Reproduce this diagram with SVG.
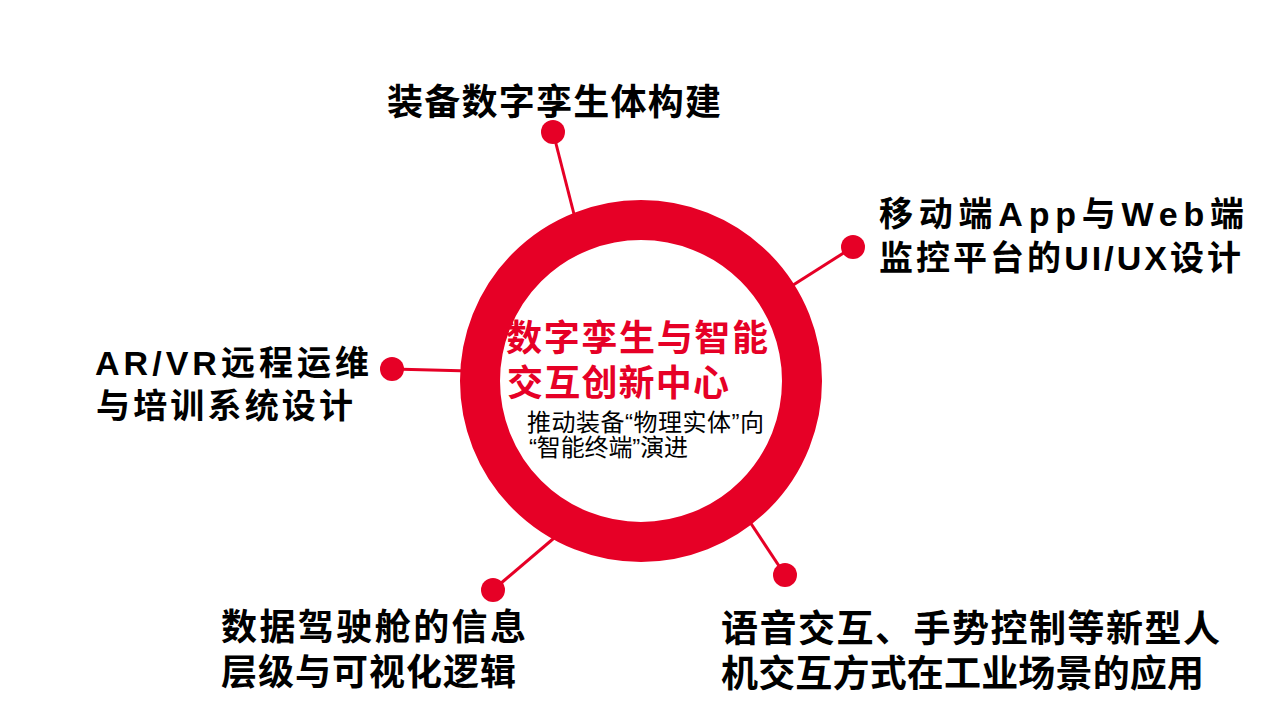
<svg xmlns="http://www.w3.org/2000/svg" width="1280" height="720" viewBox="0 0 1280 720">
<style>
.lbl{font-family:"Liberation Sans","Noto Sans CJK SC",sans-serif;font-weight:bold;fill:#000}
.ttl{font-family:"Liberation Sans","Noto Sans CJK SC",sans-serif;font-weight:bold;fill:#E60026;font-size:36px}
.sub{font-family:"Liberation Sans","Noto Sans CJK SC",sans-serif;fill:#000;font-size:24px}
.conn{stroke:#E60026;stroke-width:3;fill:none}
.dot{fill:#E60026}
</style>
<rect width="1280" height="720" fill="#fff"/>
<g id="connectors">
<line class="conn" x1="553" y1="132" x2="576" y2="222"/>
<line class="conn" x1="853" y1="247" x2="790" y2="287"/>
<line class="conn" x1="392" y1="369" x2="470" y2="371"/>
<line class="conn" x1="493" y1="590" x2="560" y2="533"/>
<line class="conn" x1="785" y1="575" x2="746" y2="516"/>
</g>
<g id="center">
<circle cx="641" cy="381" r="161" fill="#fff" stroke="#E60026" stroke-width="40"/>
<text class="ttl" x="506" y="351" textLength="262">数字孪生与智能</text>
<text class="ttl" x="507" y="396" textLength="222">交互创新中心</text>
<text class="sub" x="527" y="431" textLength="237">推动装备“物理实体”向</text>
<text class="sub" x="529" y="456" textLength="159">“智能终端”演进</text>
</g>
<g id="node-top">
<circle class="dot" cx="553" cy="132" r="12"/>
<text class="lbl" x="387" y="115" font-size="36" textLength="334">装备数字孪生体构建</text>
</g>
<g id="node-right">
<circle class="dot" cx="853" cy="247" r="12"/>
<text class="lbl" x="879" y="226" font-size="34" textLength="365">移动端App与Web端</text>
<text class="lbl" x="879" y="270" font-size="34" textLength="362">监控平台的UI/UX设计</text>
</g>
<g id="node-left">
<circle class="dot" cx="392" cy="369" r="12"/>
<text class="lbl" x="95" y="375" font-size="34" textLength="274">AR/VR远程运维</text>
<text class="lbl" x="96" y="418" font-size="34" textLength="257">与培训系统设计</text>
</g>
<g id="node-bottom-left">
<circle class="dot" cx="493" cy="590" r="12"/>
<text class="lbl" x="221" y="640" font-size="36" textLength="305">数据驾驶舱的信息</text>
<text class="lbl" x="221" y="685" font-size="36" textLength="295">层级与可视化逻辑</text>
</g>
<g id="node-bottom-right">
<circle class="dot" cx="785" cy="575" r="12"/>
<text class="lbl" x="721" y="642" font-size="37" textLength="499">语音交互、手势控制等新型人</text>
<text class="lbl" x="721" y="687" font-size="37" textLength="483">机交互方式在工业场景的应用</text>
</g>
</svg>
